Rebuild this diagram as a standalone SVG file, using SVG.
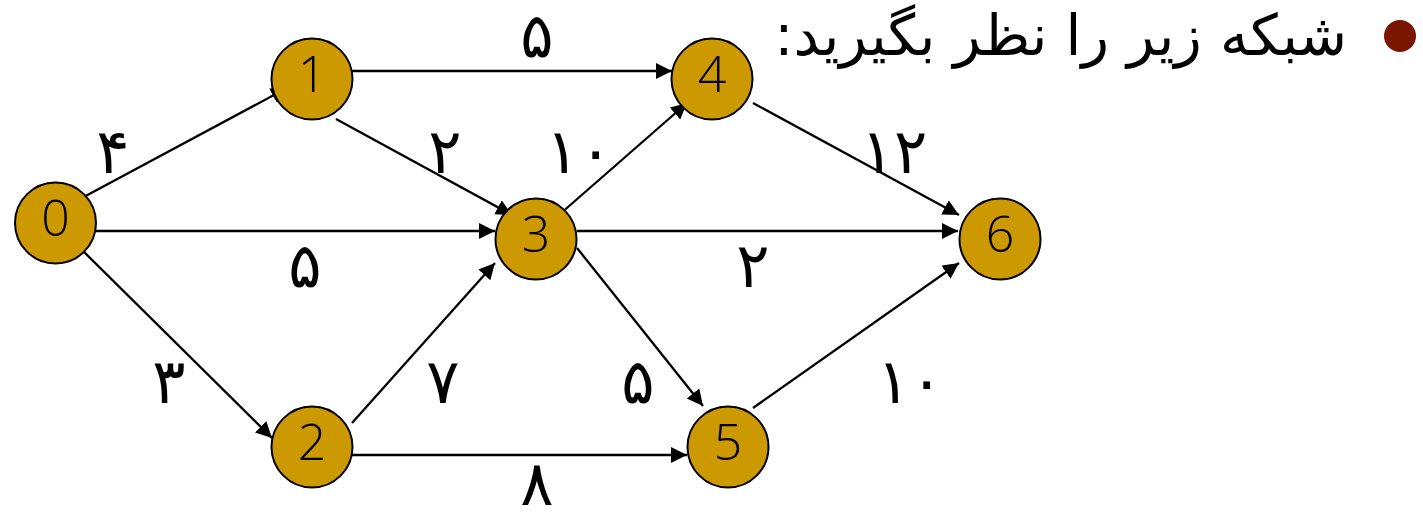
<svg xmlns="http://www.w3.org/2000/svg" width="1423" height="518" viewBox="0 0 1423 518">
<style>
.node circle{fill:#cc9900;stroke:#000;stroke-width:2}
.node text{font-family:"Open Sans","DejaVu Sans",sans-serif;font-weight:300;font-size:50px;fill:#000;text-anchor:middle}
#edges line{stroke:#000;stroke-width:2.3;marker-end:url(#arr)}
.lbl{font-family:"DejaVu Sans",sans-serif;font-size:62px;fill:#000;text-anchor:middle}
.title{font-family:"DejaVu Sans",sans-serif;font-size:57px;fill:#000}
</style>
<defs>
<marker id="arr" markerUnits="userSpaceOnUse" markerWidth="20" markerHeight="18" refX="16" refY="8" orient="auto">
<path d="M0,0 L16,8 L0,16 z" fill="#000"/>
</marker>
</defs>
<rect width="1423" height="518" fill="#fff"/>
<g id="title">
<circle cx="1400" cy="36" r="16" fill="#7a1500"/>
<text class="title" x="1347" y="55" direction="rtl" text-anchor="start">شبکه زیر را نظر بگیرید:</text>
</g>
<g id="edges">
<line x1="80" y1="199" x2="287" y2="88"/>
<line x1="96" y1="231" x2="495" y2="231"/>
<line x1="80" y1="248" x2="272" y2="438"/>
<line x1="352" y1="71" x2="672" y2="71"/>
<line x1="336" y1="119" x2="512" y2="215"/>
<line x1="560" y1="214" x2="687" y2="103"/>
<line x1="577" y1="231" x2="958" y2="231"/>
<line x1="577" y1="248" x2="703" y2="406"/>
<line x1="352" y1="423" x2="495" y2="263"/>
<line x1="352" y1="455" x2="687" y2="455"/>
<line x1="753" y1="103" x2="959" y2="215"/>
<line x1="753" y1="408" x2="959" y2="263"/>
</g>
<g id="labels">
<text class="lbl" x="537" y="57">۵</text>
<text class="lbl" x="113" y="173">۴</text>
<text class="lbl" x="445" y="173">۲</text>
<text class="lbl" x="579" y="173">۱۰</text>
<text class="lbl" x="894" y="173">۱۲</text>
<text class="lbl" x="305" y="287">۵</text>
<text class="lbl" x="753" y="287">۲</text>
<text class="lbl" x="169" y="403">۳</text>
<text class="lbl" x="443" y="403">۷</text>
<text class="lbl" x="638" y="403">۵</text>
<text class="lbl" x="910" y="403">۱۰</text>
<text class="lbl" x="537" y="505">۸</text>
</g>
<g id="n0" class="node"><circle cx="55.5" cy="223" r="40.5"/><text x="55.5" y="236">0</text></g>
<g id="n1" class="node"><circle cx="312" cy="79" r="40.5"/><text x="312" y="92">1</text></g>
<g id="n2" class="node"><circle cx="312" cy="447" r="40.5"/><text x="312" y="460">2</text></g>
<g id="n3" class="node"><circle cx="536" cy="239" r="40.5"/><text x="536" y="252">3</text></g>
<g id="n4" class="node"><circle cx="712" cy="79" r="40.5"/><text x="712" y="92">4</text></g>
<g id="n5" class="node"><circle cx="728" cy="447" r="40.5"/><text x="728" y="460">5</text></g>
<g id="n6" class="node"><circle cx="1000" cy="239" r="40.5"/><text x="1000" y="252">6</text></g>
</svg>
